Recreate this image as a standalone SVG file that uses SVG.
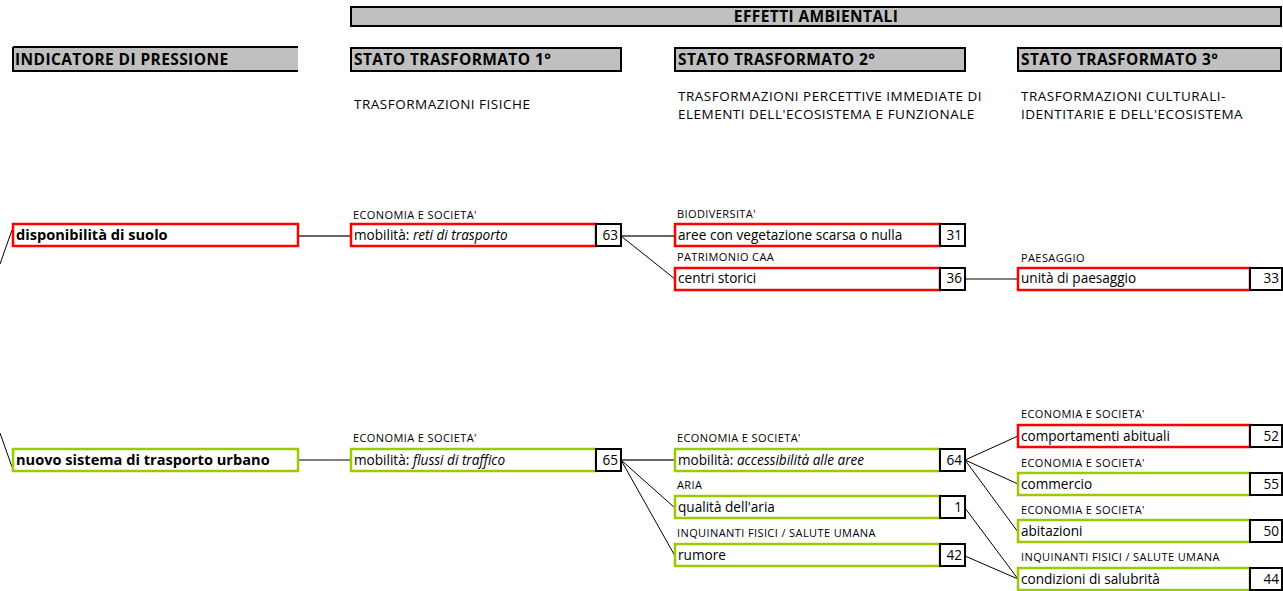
<svg xmlns="http://www.w3.org/2000/svg" width="1283" height="591" viewBox="0 0 1283 591">
<style>
text{font-family:"Open Sans","Liberation Sans",sans-serif;fill:#000}
.hdr{fill:#c0c0c0;stroke:#000;stroke-width:2}
.ht{font-size:15.5px;font-weight:bold;letter-spacing:0.4px}
.sub{font-size:13.5px;letter-spacing:0.5px}
.lab{font-size:11px;letter-spacing:0.4px}
.nt{font-size:13.6px}
.bt{font-size:14.6px;font-weight:bold}
.num{font-size:13.6px;text-anchor:end}
.red{fill:#fff;stroke:#ff0000;stroke-width:2.5}
.grn{fill:#fff;stroke:#99cc00;stroke-width:2.5}
.nb{fill:#fff;stroke:#000;stroke-width:2}
.cg{stroke:#666;stroke-width:2;fill:none}
.ck{stroke:#000;stroke-width:1;fill:none}
</style>
<rect width="1283" height="591" fill="#fff"/>
<g id="headers">
<rect class="hdr" x="351" y="7" width="930" height="19"/>
<text class="ht" x="816" y="21.5" text-anchor="middle">EFFETTI AMBIENTALI</text>
<rect x="12" y="47" width="286" height="24" fill="#c0c0c0"/>
<path d="M13 47V71H298M13 47H298" stroke="#000" stroke-width="2" fill="none"/>
<text class="ht" x="15" y="64.5">INDICATORE DI PRESSIONE</text>
<rect class="hdr" x="351" y="48" width="270" height="23"/>
<text class="ht" x="354" y="64.5">STATO TRASFORMATO 1°</text>
<rect class="hdr" x="675" y="48" width="290" height="23"/>
<text class="ht" x="678" y="64.5">STATO TRASFORMATO 2°</text>
<rect class="hdr" x="1018" y="48" width="263" height="23"/>
<text class="ht" x="1021" y="64.5">STATO TRASFORMATO 3°</text>
<text class="sub" x="354" y="109">TRASFORMAZIONI FISICHE</text>
<text class="sub" x="678" y="101">TRASFORMAZIONI PERCETTIVE IMMEDIATE DI</text>
<text class="sub" x="678" y="119">ELEMENTI DELL'ECOSISTEMA E FUNZIONALE</text>
<text class="sub" x="1021" y="101">TRASFORMAZIONI CULTURALI-</text>
<text class="sub" x="1021" y="119">IDENTITARIE E DELL'ECOSISTEMA</text>
</g>
<g id="connectors">
<line class="ck" x1="0" y1="264" x2="12" y2="230"/>
<line class="ck" x1="0" y1="433" x2="12" y2="467"/>
<line class="cg" x1="298" y1="236" x2="351" y2="236"/>
<line class="ck" x1="298" y1="460" x2="351" y2="460"/>
<line class="cg" x1="621" y1="236" x2="675" y2="236"/>
<line class="ck" x1="621" y1="236" x2="675" y2="279"/>
<line class="ck" x1="965" y1="279" x2="1018" y2="279"/>
<line class="cg" x1="621" y1="460" x2="675" y2="460"/>
<line class="ck" x1="621" y1="460" x2="675" y2="508"/>
<line class="ck" x1="621" y1="460" x2="675" y2="556"/>
<line class="ck" x1="965" y1="460" x2="1018" y2="436"/>
<line class="ck" x1="965" y1="460" x2="1018" y2="484"/>
<line class="ck" x1="965" y1="460" x2="1018" y2="532"/>
<line class="ck" x1="965" y1="508" x2="1018" y2="579"/>
<line class="ck" x1="965" y1="556" x2="1018" y2="579"/>
</g>
<g id="n-disponibilita">
<rect class="red" x="13" y="224" width="285" height="22"/>
<text class="bt" x="16" y="240">disponibilità di suolo</text>
</g>
<g id="n-nuovo-sistema">
<rect class="grn" x="13" y="449" width="285" height="22"/>
<text class="bt" x="16" y="465">nuovo sistema di trasporto urbano</text>
</g>
<g id="n-reti">
<text class="lab" x="353" y="219">ECONOMIA E SOCIETA'</text>
<rect class="red" x="351" y="224" width="245" height="22"/>
<rect class="nb" x="596" y="224" width="25" height="22"/>
<text class="nt" x="354" y="240">mobilità: <tspan font-style="italic">reti di trasporto</tspan></text>
<text class="num" x="618" y="240">63</text>
</g>
<g id="n-flussi">
<text class="lab" x="353" y="442">ECONOMIA E SOCIETA'</text>
<rect class="grn" x="351" y="449" width="245" height="22"/>
<rect class="nb" x="596" y="449" width="25" height="22"/>
<text class="nt" x="354" y="465">mobilità: <tspan font-style="italic">flussi di traffico</tspan></text>
<text class="num" x="618" y="465">65</text>
</g>
<g id="n-aree">
<text class="lab" x="677" y="218">BIODIVERSITA'</text>
<rect class="red" x="675" y="224" width="265" height="22"/>
<rect class="nb" x="940" y="224" width="25" height="22"/>
<text class="nt" x="678" y="240">aree con vegetazione scarsa o nulla</text>
<text class="num" x="962" y="240">31</text>
</g>
<g id="n-centri">
<text class="lab" x="677" y="261">PATRIMONIO CAA</text>
<rect class="red" x="675" y="268" width="265" height="22"/>
<rect class="nb" x="940" y="268" width="25" height="22"/>
<text class="nt" x="678" y="283">centri storici</text>
<text class="num" x="962" y="283">36</text>
</g>
<g id="n-unita">
<text class="lab" x="1021" y="262">PAESAGGIO</text>
<rect class="red" x="1018" y="268" width="232" height="22"/>
<rect class="nb" x="1250" y="268" width="32" height="22"/>
<text class="nt" x="1021" y="283">unità di paesaggio</text>
<text class="num" x="1279" y="283">33</text>
</g>
<g id="n-accessibilita">
<text class="lab" x="677" y="442">ECONOMIA E SOCIETA'</text>
<rect class="grn" x="675" y="449" width="265" height="22"/>
<rect class="nb" x="940" y="449" width="25" height="22"/>
<text class="nt" x="678" y="465">mobilità: <tspan font-style="italic">accessibilità alle aree</tspan></text>
<text class="num" x="962" y="465">64</text>
</g>
<g id="n-aria">
<text class="lab" x="677" y="489">ARIA</text>
<rect class="grn" x="675" y="496" width="265" height="22"/>
<rect class="nb" x="940" y="496" width="25" height="22"/>
<text class="nt" x="678" y="512">qualità dell'aria</text>
<text class="num" x="962" y="512">1</text>
</g>
<g id="n-rumore">
<text class="lab" x="677" y="537">INQUINANTI FISICI / SALUTE UMANA</text>
<rect class="grn" x="675" y="544" width="265" height="22"/>
<rect class="nb" x="940" y="544" width="25" height="22"/>
<text class="nt" x="678" y="560">rumore</text>
<text class="num" x="962" y="560">42</text>
</g>
<g id="n-comportamenti">
<text class="lab" x="1021" y="418">ECONOMIA E SOCIETA'</text>
<rect class="red" x="1018" y="425" width="232" height="22"/>
<rect class="nb" x="1250" y="425" width="32" height="22"/>
<text class="nt" x="1021" y="441">comportamenti abituali</text>
<text class="num" x="1279" y="441">52</text>
</g>
<g id="n-commercio">
<text class="lab" x="1021" y="467">ECONOMIA E SOCIETA'</text>
<rect class="grn" x="1018" y="473" width="232" height="22"/>
<rect class="nb" x="1250" y="473" width="32" height="22"/>
<text class="nt" x="1021" y="489">commercio</text>
<text class="num" x="1279" y="489">55</text>
</g>
<g id="n-abitazioni">
<text class="lab" x="1021" y="514">ECONOMIA E SOCIETA'</text>
<rect class="grn" x="1018" y="520" width="232" height="22"/>
<rect class="nb" x="1250" y="520" width="32" height="22"/>
<text class="nt" x="1021" y="536">abitazioni</text>
<text class="num" x="1279" y="536">50</text>
</g>
<g id="n-condizioni">
<text class="lab" x="1021" y="561">INQUINANTI FISICI / SALUTE UMANA</text>
<rect class="grn" x="1018" y="568" width="232" height="22"/>
<rect class="nb" x="1250" y="568" width="32" height="22"/>
<text class="nt" x="1021" y="584">condizioni di salubrità</text>
<text class="num" x="1279" y="584">44</text>
</g>
</svg>
